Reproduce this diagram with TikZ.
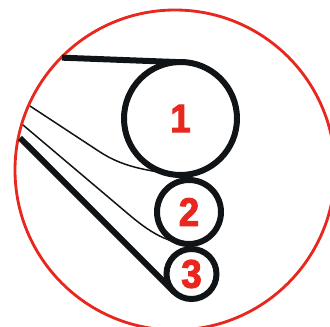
\documentclass[tikz,border=0pt]{standalone}
\usepackage{fontspec}
\setmainfont{Liberation Sans}[BoldFeatures={FakeBold=2.6,FakeStretch=0.92}]
\definecolor{RollBlack}{RGB}{16,20,22}
\definecolor{RollRed}{RGB}{232,40,30}

\begin{document}
\begin{tikzpicture}[
          roll/.style={circle, draw=RollBlack, line width=0.18cm, outer sep=0pt,
                       inner sep=0pt, text=RollRed, font=\fontsize{34}{34}\selectfont\bfseries},
          beltthick/.style={draw=RollBlack, line width=0.18cm},
          beltthin/.style={draw=RollBlack, line width=0.045cm}
        ]
        \useasboundingbox (0, 0) rectangle (9.9, 9.78);
        \node[circle, draw=RollRed, line width=0.085cm, minimum size=9.6cm]
              (ring) at (5.25, 4.68) {};

        \coordinate (top)  at (1.86, 8.05);
        \coordinate (thna) at (0.90, 6.60);
        \coordinate (thnb) at (0.69, 6.03);
        \coordinate (low)  at (0.60, 5.64);

        \node[roll, minimum size=3.39cm] (r1) at (5.415, 6.225) {1};
        \node[roll, minimum size=1.92cm] (r2) at (5.67, 3.42)   {2};
        \node[roll, minimum size=1.50cm] (r3) at (5.745, 1.56)  {3};

        \draw[beltthick] (top) -- (r1.93);
        \draw[beltthick] (low) -- (r3.225);
        \draw[beltthin]  (thna) -- (3.00, 5.22) .. controls (3.66, 4.80) and (4.20, 4.71) .. (r1.260);
        \draw[beltthin]  (thnb) -- (3.60, 3.57) .. controls (4.20, 3.06) and (4.80, 2.52) .. (r2.268);
      \end{tikzpicture}
\end{document}
